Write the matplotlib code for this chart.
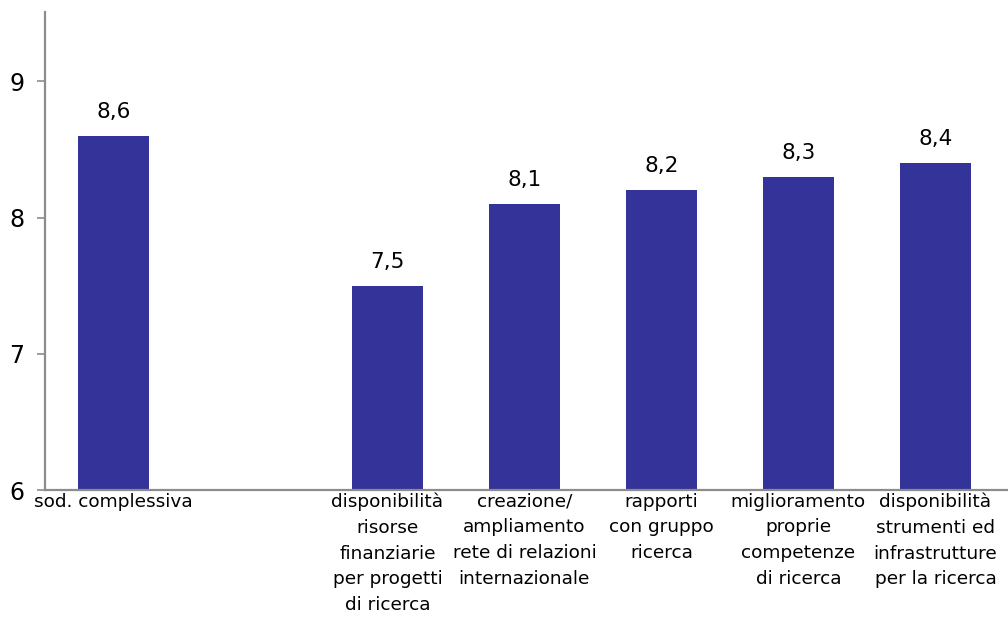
import matplotlib
matplotlib.use("Agg")
import matplotlib.pyplot as plt

# Survey scores (scale 6-10), one overall rating followed by the detailed items
categories = [
    "sod. complessiva",
    "",
    "disponibilità\nrisorse\nfinanziarie\nper progetti\ndi ricerca",
    "creazione/\nampliamento\nrete di relazioni\ninternazionale",
    "rapporti\ncon gruppo\nricerca",
    "miglioramento\nproprie\ncompetenze\ndi ricerca",
    "disponibilità\nstrumenti ed\ninfrastrutture\nper la ricerca",
]
values = [8.6, None, 7.5, 8.1, 8.2, 8.3, 8.4]
yticks = [6, 7, 8, 9]

bar_color = "#333399"
axis_color = "#8c8c8c"

fig = plt.figure(figsize=(10.08, 6.25), dpi=100)
ax = fig.add_axes([0.0446, 0.216, 0.9554, 0.765])

positions = [i for i, v in enumerate(values) if v is not None]
heights = [v for v in values if v is not None]
base = 6
ax.bar(positions, [h - base for h in heights], bottom=base,
       width=0.52, color=bar_color, zorder=2)

for x, h in zip(positions, heights):
    ax.annotate(f"{h:.1f}".replace(".", ","), xy=(x, h), xytext=(0, 10),
                textcoords="offset points", ha="center", va="bottom",
                fontsize=15.5, color="black")

ax.set_xlim(-0.5, 6.53)
ax.set_ylim(6, 9.51)
ax.set_yticks(yticks)
ax.set_yticklabels([str(t) for t in yticks], fontsize=17)

ax.set_xticks(range(len(categories)))
ax.set_xticklabels(categories, fontsize=13.3, linespacing=1.55, va="top")
ax.tick_params(axis="x", length=0, pad=2)
ax.tick_params(axis="y", direction="out", length=6, width=1.2,
               color=axis_color, pad=9)

for side in ("top", "right"):
    ax.spines[side].set_visible(False)
for side in ("left", "bottom"):
    ax.spines[side].set_color(axis_color)
    ax.spines[side].set_linewidth(1.6)

fig.savefig("out.png", dpi=100)
